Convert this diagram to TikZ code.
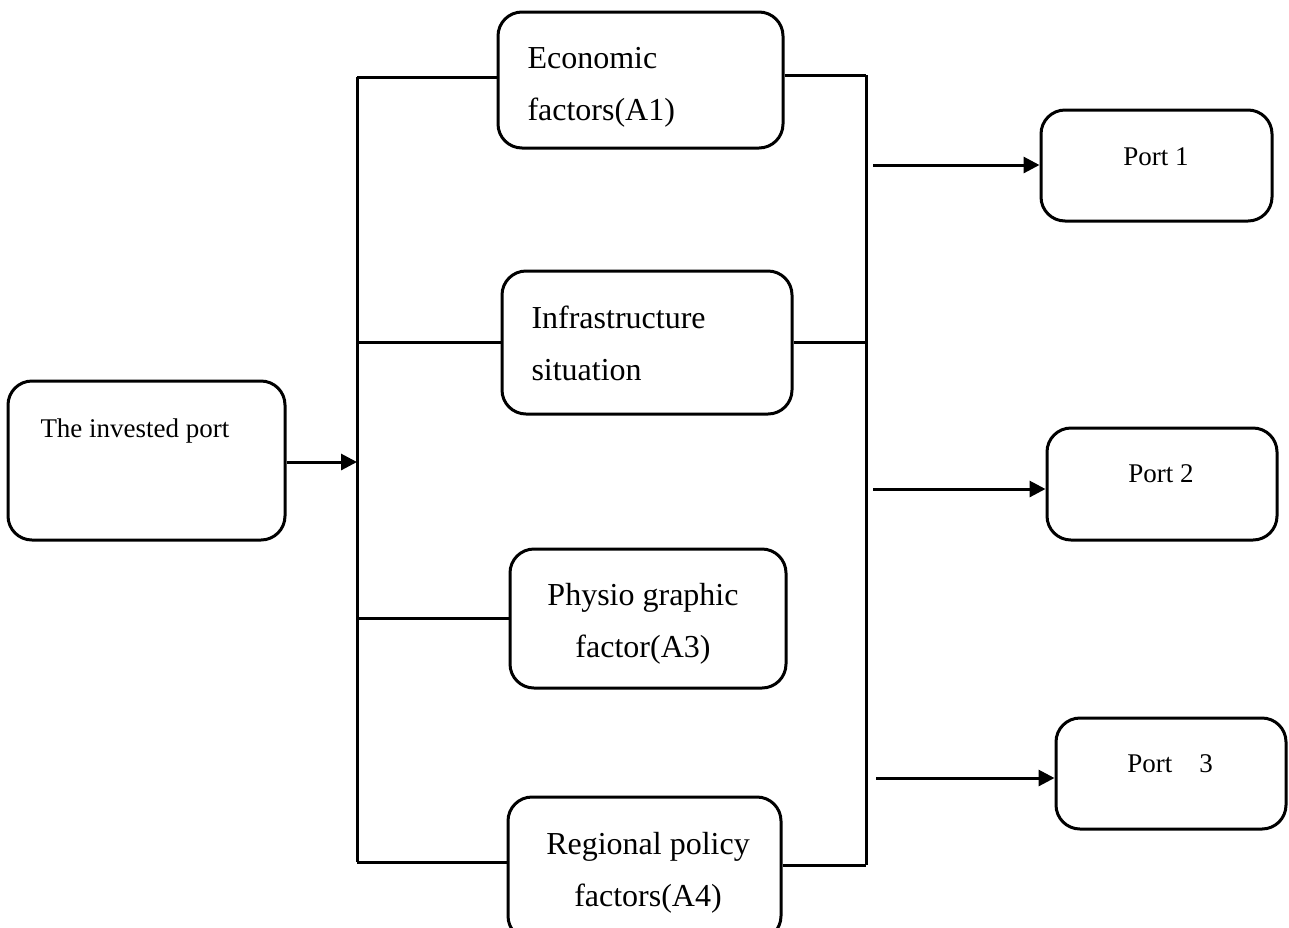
\documentclass[tikz,border=0pt]{standalone}
\usepackage{fontspec}
\setmainfont{Liberation Serif}
\usepackage{tikz}
\usetikzlibrary{positioning,arrows.meta}

\tikzset{
  factorbox/.style={draw, line width=1.5pt, rounded corners=12pt, inner sep=0pt},
  bigtext/.style={inner sep=0pt, font=\fontsize{16}{26}\selectfont},
  smalltext/.style={inner sep=0pt, font=\fontsize{13.5}{16}\selectfont},
}

\begin{document}
\begin{tikzpicture}[x=0.5pt, y=-0.5pt, line width=1.5pt,
  >={Triangle[length=8pt,width=8pt]}]
  \useasboundingbox (0,0) rectangle (1289,927);
  % boxes
  \node[factorbox, minimum width=138.5pt, minimum height=79.5pt] (inv) at (146.5,460.5) {};
  \node[factorbox, minimum width=142.5pt, minimum height=68pt] (eco) at (640.5,80) {};
  \node[factorbox, minimum width=145pt, minimum height=71.5pt] (inf) at (647,342.5) {};
  \node[factorbox, minimum width=138pt, minimum height=69.5pt] (phy) at (648,618.5) {};
  \node[factorbox, minimum width=136.5pt, minimum height=71.5pt] (reg) at (644.5,868.5) {};
  \node[factorbox, minimum width=115.5pt, minimum height=55.5pt] (p1) at (1156.5,165.5) {};
  \node[factorbox, minimum width=115pt, minimum height=56pt] (p2) at (1162,484) {};
  \node[factorbox, minimum width=115pt, minimum height=55.5pt] (p3) at (1171,773.5) {};
  % texts
  \node[smalltext, anchor=west] (invtxt) at (39,431) {The invested port};
  \node[bigtext, anchor=west, align=left] (ecotxt) at (526,87) {Economic\\factors(A1)};
  \node[bigtext, anchor=west, align=left] (inftxt) at (530,343) {Infrastructure\\situation};
  \node[bigtext, align=center] (phytxt) at (643,624) {Physio graphic\\factor(A3)};
  \node[bigtext, align=center] (regtxt) at (648,873) {Regional policy\\factors(A4)};
  \node[smalltext] (p1txt) at (1156,157) {Port 1};
  \node[smalltext] (p2txt) at (1161,474) {Port 2};
  \node[smalltext] (p3txt) at (1170,764) {Port\ \ \ \ 3};
  % bus lines
  \coordinate (lt) at (357,77);
  \coordinate (lb) at (357,862);
  \coordinate (rt) at (866,75);
  \coordinate (rb) at (866,865);
  \draw (lt) -- (lb);
  \draw (rt) -- (rb);
  \draw (lt) -- (lt -| eco.west);
  \draw (lb |- inf.west) -- (inf.west);
  \draw (lb |- phy.west) -- (phy.west);
  \draw (lb) -- (lb -| reg.west);
  \draw (rt -| eco.east) -- (rt);
  \draw (inf.east) -- (rt |- inf.east);
  \draw (rb -| reg.east) -- (rb);
  % arrows
  \draw[->] (inv.east |- 0,462) -- (lb |- 0,462);
  \coordinate (a1) at (873,165);
  \coordinate (a2) at (873,489);
  \coordinate (a3) at (876,778);
  \draw[->] (a1) -- (a1 -| p1.west);
  \draw[->] (a2) -- (a2 -| p2.west);
  \draw[->] (a3) -- (a3 -| p3.west);
\end{tikzpicture}
\end{document}
